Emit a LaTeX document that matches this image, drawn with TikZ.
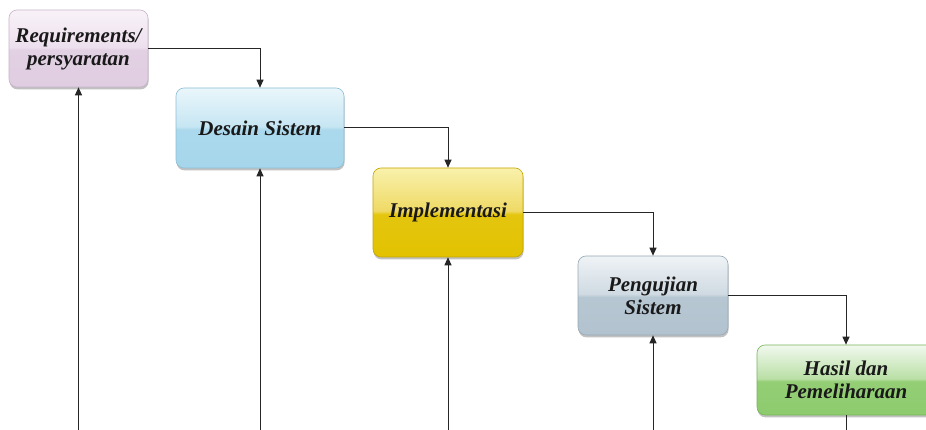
\documentclass[tikz,border=0pt]{standalone}
\usepackage{fontspec}
\setmainfont{Liberation Serif}
\usetikzlibrary{arrows.meta,shadows}

% glossy two-tone fill: light upper half, saturated lower half
\pgfdeclareverticalshading[glossT,glossM,glossB]{gloss}{100bp}{%
  color(0bp)=(glossB); color(25bp)=(glossB); color(49bp)=(glossB!85!glossM);
  color(51bp)=(glossM); color(75bp)=(glossT); color(100bp)=(glossT)}

\definecolor{reqT}{HTML}{F8F2F8}\definecolor{reqM}{HTML}{EDE0EE}\definecolor{reqB}{HTML}{E0CDE1}\definecolor{reqD}{HTML}{C9B4CA}
\definecolor{desT}{HTML}{EAF6FB}\definecolor{desM}{HTML}{C6E6F3}\definecolor{desB}{HTML}{A6D6EB}\definecolor{desD}{HTML}{8CBFD6}
\definecolor{impT}{HTML}{F9F1AC}\definecolor{impM}{HTML}{EFDA66}\definecolor{impB}{HTML}{E2C200}\definecolor{impD}{HTML}{C4A600}
\definecolor{penT}{HTML}{EFF3F6}\definecolor{penM}{HTML}{CFDAE2}\definecolor{penB}{HTML}{B2C3CF}\definecolor{penD}{HTML}{97A9B6}
\definecolor{hasT}{HTML}{F1F9EE}\definecolor{hasM}{HTML}{BADFA6}\definecolor{hasB}{HTML}{8DCB6D}\definecolor{hasD}{HTML}{79B55C}

\tikzset{
  box/.style={rounded corners=8pt, draw=#1, line width=0.6pt, align=center,
    font=\fontsize{21}{23}\selectfont\bfseries\itshape, text=black!90, inner sep=2pt,
    drop shadow={shadow xshift=0.6pt, shadow yshift=-2.4pt, opacity=0.4, fill=black!60}},
  glossy/.style n args={3}{/utils/exec={\colorlet{glossT}{#1}\colorlet{glossM}{#2}\colorlet{glossB}{#3}}, shading=gloss},
  arr/.style={draw=black!85, line width=1pt, -{Triangle[length=8pt,width=7pt]}},
  plain/.style={draw=black!85, line width=1pt},
}

\begin{document}
\begin{tikzpicture}[x=1pt,y=-1pt]
  \clip (0,0) rectangle (926,430);
  \fill[white] (0,0) rectangle (926,430);

  % phases of the process
  \node[box=reqD, glossy={reqT}{reqM}{reqB}, minimum width=139pt, minimum height=77pt] (req) at (78.5,48.5) {Requirements/\\persyaratan};
  \node[box=desD, glossy={desT}{desM}{desB}, minimum width=168pt, minimum height=80pt] (des) at (260,128) {Desain Sistem};
  \node[box=impD, glossy={impT}{impM}{impB}, minimum width=150pt, minimum height=89pt] (imp) at (448,212.5) {Implementasi};
  \node[box=penD, glossy={penT}{penM}{penB}, minimum width=150pt, minimum height=79pt] (pen) at (653,295.5) {Pengujian\\Sistem};
  \node[box=hasD, glossy={hasT}{hasM}{hasB}, minimum width=178pt, minimum height=70pt] (has) at (846,380) {Hasil dan\\Pemeliharaan};

  % baseline for the return lines running off the bottom
  \coordinate (base) at (0,434);

  % forward flow
  \draw[arr] (req.east) -| (des.north);
  \draw[arr] (des.east) -| (imp.north);
  \draw[arr] (imp.east) -| (pen.north);
  \draw[arr] (pen.east) -| (has.north);

  % feedback lines
  \draw[arr] (req.south |- base) -- (req.south);
  \draw[arr] (des.south |- base) -- (des.south);
  \draw[arr] (imp.south |- base) -- (imp.south);
  \draw[arr] (pen.south |- base) -- (pen.south);
  \draw[plain] (has.south) -- (has.south |- base);
\end{tikzpicture}
\end{document}
